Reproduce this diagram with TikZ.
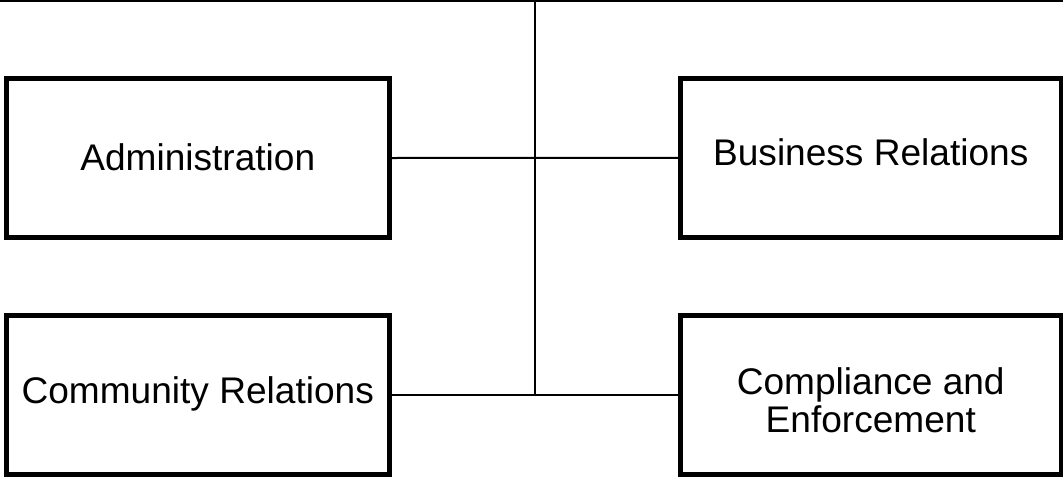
\documentclass[tikz,border=0pt]{standalone}
\usepackage{fontspec}
\setmainfont{Liberation Sans}
\begin{document}
\begin{tikzpicture}[x=0.75pt,y=-0.75pt,
  unitbox/.style={draw=black, line width=3.75pt, rectangle, fill=white,
    font=\fontsize{27.8pt}{28pt}\selectfont, align=center,
    text depth=0pt, inner sep=0pt},
  link/.style={draw=black, line width=1.5pt}]
  \useasboundingbox (0,0) rectangle (1063,479);

  % department boxes
  \node[unitbox, text height=18pt,
    minimum width=382.5*0.75pt, minimum height=159*0.75pt]
    (admin) at (197.75,158) {Administration};
  \node[unitbox, text height=12pt,
    minimum width=382.5*0.75pt, minimum height=158.5*0.75pt]
    (community) at (197.75,395) {Community Relations};
  \node[unitbox, text height=11pt,
    minimum width=380.5*0.75pt, minimum height=158.5*0.75pt]
    (business) at (870.75,157.75) {Business Relations};
  \node[unitbox, text height=55.5pt,
    minimum width=380.5*0.75pt, minimum height=159*0.75pt]
    (compliance) at (870.75,395) {Compliance and\\Enforcement};

  % trunk from the top rule down to the lower branch
  \coordinate (topleft) at (0,1.3);
  \coordinate (topright) at (1063,1.3);
  \coordinate (trunktop) at (535,1.3);
  \coordinate (trunkbottom) at (535,395);

  \draw[link] (topleft) -- (topright);
  \draw[link] (trunktop) -- (trunkbottom);
  \draw[link] (admin.east) -- (business.west);
  \draw[link] (community.east) -- (compliance.west);
\end{tikzpicture}
\end{document}
